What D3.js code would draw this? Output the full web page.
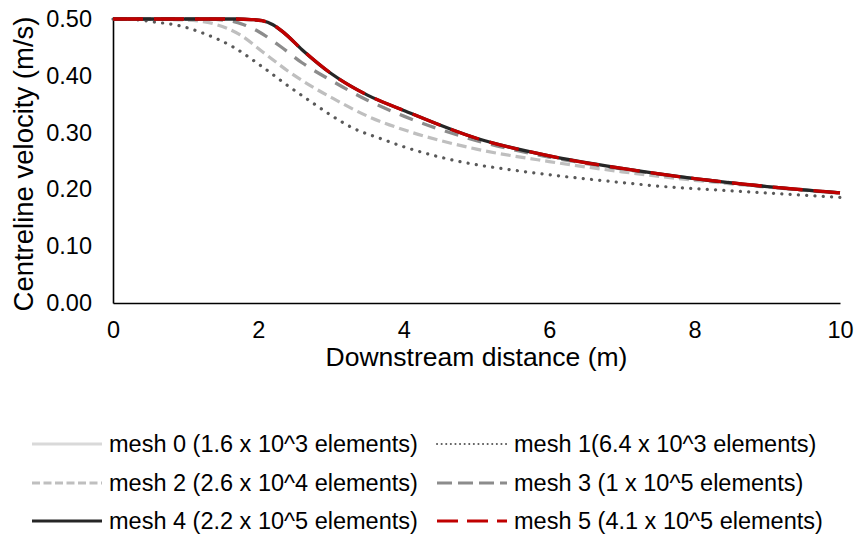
<!DOCTYPE html>
<html>
<head>
<meta charset="utf-8">
<script src="https://cdn.jsdelivr.net/npm/d3@7"></script>
<style>
  body { margin: 0; background: #fff; }
  svg { display: block; font-family: "Liberation Sans", Arial, sans-serif; }
</style>
</head>
<body>
<svg id="chart" width="856" height="535"></svg>
<script>
// ---- data ----
const seriesNames = [
  "mesh 0 (1.6 x 10^3 elements)",
  "mesh 1(6.4 x 10^3 elements)",
  "mesh 2 (2.6 x 10^4 elements)",
  "mesh 3 (1 x 10^5 elements)",
  "mesh 4 (2.2 x 10^5 elements)",
  "mesh 5 (4.1 x 10^5 elements)"
];
const mesh0 = []; // not visible in the plot
const mesh1 = [[0,0.5],[0.3,0.499],[0.55,0.495],[0.92,0.488],[1.24,0.475],[1.65,0.451],[2.02,0.419],[2.39,0.384],[2.75,0.352],[3.03,0.328],[3.3,0.308],[3.67,0.29],[4,0.275],[4.81,0.248],[5.5,0.234],[6.19,0.223],[7,0.212],[7.57,0.205],[8.3,0.199],[8.94,0.194],[10,0.186]];
const mesh2 = [[0,0.5],[0.8,0.499],[1.2,0.496],[1.4,0.491],[1.75,0.472],[2.06,0.442],[2.4,0.409],[2.75,0.38],[3.0,0.362],[3.5,0.329],[4,0.305],[5,0.271],[6,0.249],[7,0.231],[8,0.216],[9,0.204],[10,0.193]];
const mesh3 = [[0,0.5],[1.2,0.5],[1.6,0.497],[1.8,0.49],[2.0,0.478],[2.3,0.452],[2.6,0.423],[3.0,0.392],[3.5,0.357],[4,0.329],[5,0.286],[6,0.257],[7,0.236],[8,0.219],[9,0.205],[10,0.194]];
const mesh4 = [[0,0.5],[1,0.5],[1.7,0.5],[1.9,0.499],[2.05,0.497],[2.2,0.49],[2.35,0.476],[2.6,0.446],[3.0,0.404],[3.5,0.366],[4,0.339],[5,0.29],[6,0.259],[7,0.237],[8,0.219],[9,0.205],[10,0.194]];
const mesh5 = [[0,0.5],[1,0.5],[1.7,0.5],[1.9,0.499],[2.05,0.497],[2.2,0.49],[2.35,0.476],[2.6,0.446],[3.0,0.404],[3.5,0.366],[4,0.339],[5,0.29],[6,0.259],[7,0.237],[8,0.219],[9,0.205],[10,0.194]];
const xTicks = [0, 2, 4, 6, 8, 10];
const yTicks = [0, 0.1, 0.2, 0.3, 0.4, 0.5];
const xLabel = "Downstream distance (m)";
const yLabel = "Centreline velocity (m/s)";

// ---- styles ----
const styles = [
  { color: "#d9d9d9", width: 3, dash: null, cap: "butt", lDash: null, lWidth: 3 },
  { color: "#595959", width: 3.2, dash: "0.1 8.2", cap: "round", lDash: "0.1 4.5", lWidth: 2, lCap: "round" },
  { color: "#bfbfbf", width: 3.2, dash: "10 5", cap: "butt", lDash: "8 3.5", lWidth: 3 },
  { color: "#8c8c8c", width: 3.3, dash: "14 10", cap: "butt", lDash: "15 6", lWidth: 3.2 },
  { color: "#262626", width: 3.3, dash: null, cap: "butt", lDash: null, lWidth: 3.2 },
  { color: "#c00000", width: 3.3, dash: "30 11", cap: "butt", lDash: "21 9", lWidth: 3.2 }
];
const allData = [mesh0, mesh1, mesh2, mesh3, mesh4, mesh5];

const tickFont = 23.5, titleFont = 26.5, legendFont = 23.5;
const svg = d3.select("#chart");
const mLeft = 113, mRight = 840, mTop = 19, mBottom = 303;
const x = d3.scaleLinear().domain([0, 10]).range([mLeft, mRight]);
const y = d3.scaleLinear().domain([0, 0.5]).range([mBottom, mTop]);

// axes
const xAxis = svg.append("g").attr("transform", `translate(0,${mBottom})`)
  .call(d3.axisBottom(x).tickValues(xTicks).tickSize(0).tickPadding(18).tickFormat(d3.format("d")));
const yAxis = svg.append("g").attr("transform", `translate(${mLeft},0)`)
  .call(d3.axisLeft(y).tickValues(yTicks).tickSize(0).tickPadding(21).tickFormat(d3.format(".2f")));
[xAxis, yAxis].forEach(g => {
  g.select(".domain").attr("stroke", "#000").attr("stroke-width", 1.6);
  g.selectAll("text").attr("font-size", tickFont).attr("fill", "#000")
    .attr("font-family", "'Liberation Sans', Arial, sans-serif");
});

// lines
const line = d3.line().x(d => x(d[0])).y(d => y(d[1])).curve(d3.curveMonotoneX);
allData.forEach((data, i) => {
  if (!data.length) return;
  const s = styles[i];
  svg.append("path").datum(data)
    .attr("d", line)
    .attr("fill", "none")
    .attr("stroke", s.color)
    .attr("stroke-width", s.width)
    .attr("stroke-linecap", s.cap)
    .attr("stroke-linejoin", "round")
    .attr("stroke-dasharray", s.dash);
});

// axis titles
svg.append("text").attr("x", (mLeft + mRight) / 2).attr("y", 366)
  .attr("text-anchor", "middle").attr("font-size", titleFont).attr("fill", "#000").text(xLabel);
svg.append("text").attr("transform", "translate(33,164) rotate(-90)")
  .attr("text-anchor", "middle").attr("font-size", titleFont + 1).attr("fill", "#000").text(yLabel);

// legend
const legCols = [32, 437];
const legRows = [444, 483, 521];
seriesNames.forEach((name, i) => {
  const cx = legCols[i % 2], cy = legRows[Math.floor(i / 2)];
  const s = styles[i];
  const g = svg.append("g");
  g.append("line").attr("x1", cx).attr("x2", cx + 70).attr("y1", cy).attr("y2", cy)
    .attr("stroke", s.color).attr("stroke-width", s.lWidth)
    .attr("stroke-linecap", s.lCap || "butt")
    .attr("stroke-dasharray", s.lDash);
  g.append("text").attr("x", cx + 77).attr("y", cy).attr("dy", "0.35em")
    .attr("font-size", legendFont).attr("fill", "#000").text(name);
});
</script>
</body>
</html>
